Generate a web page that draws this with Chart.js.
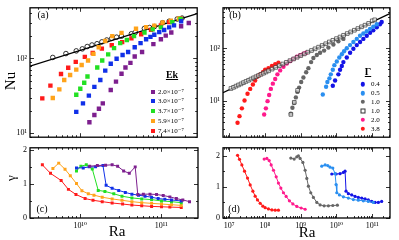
<!DOCTYPE html>
<html><head><meta charset="utf-8">
<title>Nu and gamma vs Ra</title>
<script src="https://cdn.jsdelivr.net/npm/chart.js"></script>
<style>
  body { margin: 0; background: #fff; }
  #fig { position: relative; width: 399px; height: 240px; overflow: hidden; font-family: "Liberation Serif", "DejaVu Serif", serif; color: #000; }
  canvas { position: absolute; }
  .t { position: absolute; white-space: nowrap; line-height: 1; transform: translate(-50%, -50%); }
  .row { position: absolute; white-space: nowrap; line-height: 1; font-size: 7px; transform: translateY(-50%); }
  .mk { position: absolute; transform: translate(-50%, -50%); }
</style>
</head>
<body>
<div id="fig">
  <canvas id="ca" width="202" height="145" style="left:0;top:0"></canvas>
  <canvas id="cb" width="199" height="145" style="left:200px;top:0"></canvas>
  <canvas id="cc" width="202" height="100" style="left:0;top:140px"></canvas>
  <canvas id="cd" width="199" height="100" style="left:200px;top:140px"></canvas>

  <div class="t" style="left:10px;top:81px;font-size:15px;transform:translate(-50%,-50%) rotate(-90deg)">Nu</div>
  <div class="t" style="left:10px;top:178px;font-size:13px;transform:translate(-50%,-50%) rotate(-90deg)">γ</div>
  <div class="t" style="left:117px;top:231px;font-size:15px">Ra</div>
  <div class="t" style="left:307px;top:232px;font-size:15px">Ra</div>
  <div class="t" style="left:43px;top:15px;font-size:10px">(a)</div>
  <div class="t" style="left:235px;top:15px;font-size:10px">(b)</div>
  <div class="t" style="left:42px;top:209px;font-size:10px">(c)</div>
  <div class="t" style="left:234px;top:209px;font-size:10px">(d)</div>
  <div id="legA"></div>
  <div id="legB"></div>
</div>

<script>
// ---- panel (a): Nu vs Ra, one series per Ekman number
const ekLabels = ['2.0×10⁻⁷', '3.0×10⁻⁷', '3.7×10⁻⁷', '5.9×10⁻⁷', '7.4×10⁻⁷'];

const raA_open = [4.6e9, 6.7e9, 9.0e9, 1.07e10, 1.23e10, 1.41e10, 1.63e10, 1.87e10, 2.15e10, 2.48e10, 2.85e10, 3.28e10, 4.35e10, 4.86e10, 6.3e10, 7.3e10, 8.4e10, 1.06e11, 1.28e11, 1.61e11, 1.85e11];
const nuA_open = [103, 116, 126, 134, 144, 151, 157, 166, 176, 185, 192, 198, 213, 222, 251, 258, 266, 299, 313, 335, 345];
const raA_fit = [2.4e9, 2.85e11];
const nuA_fit = [79, 396];

const raA_ek20 = [1.31e10, 1.51e10, 1.72e10, 1.92e10, 2.41e10, 2.8e10, 3.28e10, 3.67e10, 4.23e10, 4.78e10, 5.9e10, 8.15e10, 1.01e11, 1.16e11, 1.36e11, 1.8e11, 2.24e11];
const nuA_ek20 = [14.1, 17.6, 21.3, 25.1, 37.9, 49.1, 62.5, 75.7, 87.3, 106, 122, 155, 180, 201, 222, 268, 296];
const raA_ek30 = [9.0e9, 1.09e10, 1.29e10, 1.51e10, 1.79e10, 2.06e10, 2.41e10, 2.85e10, 3.38e10, 3.96e10, 4.78e10, 5.65e10, 6.62e10, 7.49e10, 8.37e10, 9.64e10, 1.11e11, 1.28e11, 1.47e11, 1.8e11];
const nuA_ek30 = [19.4, 25.1, 31.9, 41.8, 51.6, 68.8, 84.9, 99, 111, 122, 141, 160, 180, 194, 207, 224, 239, 259, 276, 313];
const raA_ek37 = [9.0e9, 1.01e10, 1.13e10, 1.24e10, 1.64e10, 1.89e10, 2.24e10, 2.65e10, 3.16e10, 3.82e10, 4.69e10, 6.32e10, 7.98e10, 1.01e11, 1.4e11, 1.77e11];
const nuA_ek37 = [32.8, 39.4, 47.3, 57.4, 75.7, 93.6, 113, 137, 160, 176, 198, 222, 244, 259, 305, 335];
const raA_ek59 = [4.6e9, 5.55e9, 6.38e9, 7.55e9, 9.0e9, 1.05e10, 1.26e10, 1.47e10, 1.71e10, 2.06e10, 2.52e10, 3.28e10, 4.96e10, 6.62e10, 8.37e10, 1.06e11, 1.34e11, 1.69e11];
const nuA_ek59 = [29.6, 38.7, 51.6, 60.1, 70.8, 81.8, 93.6, 115, 141, 171, 198, 219, 249, 261, 274, 301, 319, 338];
const raA_ek74 = [3.41e9, 4.3e9, 5.82e9, 7.15e9, 8.87e9, 1.15e10, 1.44e10, 1.87e10, 2.48e10, 3.34e10, 4.35e10, 5.75e10, 7.62e10, 1.01e11, 1.28e11, 1.77e11];
const nuA_ek74 = [29.3, 43.4, 62, 75, 90, 105, 118, 135, 150, 165, 185, 210, 240, 275, 305, 340];

// ---- panel (c): gamma vs Ra
const raC_ek20 = [1.31e10, 1.63e10, 2.06e10, 2.48e10, 2.9e10, 3.44e10, 4.04e10, 4.78e10, 5.14e10, 6.03e10, 7.28e10, 8.77e10, 1.06e11, 1.28e11, 1.54e11, 1.85e11, 2.24e11];
const gC_ek20 = [1.52, 1.54, 1.55, 1.56, 1.52, 1.38, 1.31, 1.50, 0.69, 0.70, 0.70, 0.69, 0.66, 0.62, 0.57, 0.53, 0.48];
const raC_ek30 = [9.0e9, 1.09e10, 1.29e10, 1.55e10, 1.91e10, 2.09e10, 2.48e10, 2.99e10, 3.61e10, 4.35e10, 5.25e10, 6.32e10, 7.62e10, 9.18e10, 1.11e11, 1.34e11, 1.77e11];
const gC_ek30 = [1.47, 1.47, 1.50, 1.50, 1.54, 0.96, 0.87, 0.81, 0.75, 0.70, 0.67, 0.64, 0.61, 0.57, 0.55, 0.53, 0.50];
const raC_ek37 = [9.0e9, 1.02e10, 1.19e10, 1.41e10, 1.67e10, 2.02e10, 2.6e10, 3.28e10, 4.35e10, 5.75e10, 7.62e10, 1.01e11, 1.34e11, 1.77e11];
const gC_ek37 = [1.38, 1.52, 1.56, 1.44, 0.81, 0.78, 0.71, 0.64, 0.59, 0.56, 0.54, 0.50, 0.48, 0.45];
const raC_ek59 = [4.6e9, 5.43e9, 6.5e9, 7.55e9, 9.0e9, 1.05e10, 1.26e10, 1.48e10, 1.87e10, 2.48e10, 3.28e10, 4.35e10, 5.75e10, 7.62e10, 1.01e11, 1.34e11, 1.77e11];
const gC_ek59 = [1.45, 1.61, 1.43, 1.24, 1.01, 0.80, 0.71, 0.67, 0.61, 0.56, 0.52, 0.48, 0.45, 0.43, 0.41, 0.39, 0.37];
const raC_ek74 = raA_ek74;
const gC_ek74 = [1.56, 1.31, 1.10, 0.84, 0.69, 0.57, 0.52, 0.48, 0.44, 0.41, 0.38, 0.36, 0.34, 0.33, 0.32, 0.31];

// ---- panel (b): Nu vs Ra, one series per aspect ratio
const gammaLabels = ['0.4', '0.5', '1.0', '1.0', '2.0', '3.8'];

const raB_fit = [6.7e6, 3.1e11];
const nuB_fit = [14.5, 460];
const raB_g04 = [7.89e9, 9.14e9, 1.13e10, 1.26e10, 1.41e10, 1.56e10, 1.94e10, 2.4e10, 2.97e10, 3.69e10, 4.56e10, 5.64e10, 7.02e10, 8.69e10, 1.07e11, 1.34e11, 1.65e11, 1.84e11];
const nuB_g04 = [19.6, 24.6, 32.3, 39.5, 46.4, 55.2, 67.6, 82.8, 98.8, 116, 133, 152, 174, 199, 221, 253, 289, 319];
const raB_g05 = [4.14e9, 5.12e9, 5.57e9, 6.34e9, 6.94e9, 7.89e9, 8.74e9, 1.02e10, 1.2e10, 1.41e10, 1.63e10, 1.94e10, 2.4e10, 2.97e10, 3.69e10, 4.56e10, 5.64e10, 7.02e10, 8.69e10, 1.07e11, 1.34e11];
const nuB_g05 = [13.4, 18.8, 23.1, 27.1, 32.3, 39.5, 48.3, 56.7, 67.6, 77.5, 88.5, 101, 116, 133, 152, 174, 193, 213, 236, 260, 289];
const raB_g10 = [5.29e8, 5.86e8, 6.54e8, 7.3e8, 8.09e8, 9.02e8, 1.03e9, 1.19e9, 1.42e9, 1.64e9, 1.95e9, 2.26e9, 2.82e9, 3.48e9, 4.51e9, 5.94e9, 8.2e9, 1.13e10, 1.56e10];
const nuB_g10 = [5.8, 7.5, 9.2, 11.8, 15, 18.1, 23.1, 28.2, 35.4, 42.3, 55.2, 65.9, 75.3, 82.8, 91.2, 104, 119, 137, 152];
const raB_g10o = [1.12e7, 1.32e7, 1.55e7, 1.82e7, 2.14e7, 2.51e7, 2.95e7, 3.47e7, 4.07e7, 4.79e7, 5.62e7, 6.61e7, 7.76e7, 9.12e7, 1.07e8, 1.26e8, 1.58e8, 2.0e8, 2.51e8, 3.16e8, 3.98e8, 5.01e8, 6.31e8, 7.94e8, 1e9, 1.26e9, 1.58e9, 2.0e9, 2.51e9, 3.16e9, 3.98e9, 5.01e9, 6.31e9, 7.94e9, 1e10, 1.26e10, 1.58e10, 2.0e10, 2.51e10, 3.16e10, 3.98e10, 5.01e10, 6.31e10, 7.94e10, 1e11, 1.17e11, 5.3e8, 6.6e8, 8.2e8];
const nuB_g10o = [17.4, 18.3, 19.3, 20.3, 21.3, 22.5, 23.7, 24.9, 26.3, 27.7, 29.1, 30.7, 32.3, 34.0, 35.8, 37.7, 40.6, 43.7, 47.1, 50.7, 54.6, 58.8, 63.3, 68.1, 73.4, 79, 85.1, 91.6, 98.6, 106, 114, 123, 133, 143, 154, 165, 178, 192, 206, 222, 239, 258, 277, 299, 335, 350, 5.6, 9.5, 16];
const raB_g20 = [9.5e7, 1.06e8, 1.18e8, 1.31e8, 1.46e8, 1.66e8, 1.93e8, 2.23e8, 2.66e8, 3.29e8, 4.09e8, 5.06e8, 6.25e8, 7.78e8, 9.62e8, 1.19e9, 1.42e9];
const nuB_g20 = [5.6, 7.3, 10, 13.1, 17.1, 21.5, 26.4, 32.3, 38.4, 45.1, 51.8, 57.5, 63.4, 69.5, 74.5, 79.4, 82.8];
const raB_g38 = [1.71e7, 1.94e7, 2.26e7, 2.68e7, 3.25e7, 3.86e7, 4.59e7, 5.32e7, 6.18e7, 7.35e7, 8.73e7, 1.01e8, 1.25e8, 1.56e8, 1.93e8, 2.38e8];
const nuB_g38 = [3.9, 5.2, 7.3, 10.3, 13.8, 17.1, 20.7, 24.6, 29.4, 32.3, 35.4, 39.5, 42.3, 46.4, 50.4, 53.9];

// ---- panel (d): gamma vs Ra
const raD_g38 = raB_g38;
const gD_g38 = [2.01, 1.88, 1.70, 1.50, 1.28, 1.06, 0.86, 0.70, 0.58, 0.47, 0.38, 0.33, 0.29, 0.26, 0.25, 0.25];
const raD_g20 = [9.5e7, 1.13e8, 1.31e8, 1.49e8, 1.73e8, 2.06e8, 2.38e8, 2.78e8, 3.29e8, 3.91e8, 4.83e8, 6.01e8, 7.78e8, 1.03e9, 1.33e9];
const gD_g20 = [1.89, 1.91, 1.84, 1.70, 1.53, 1.32, 1.12, 0.96, 0.81, 0.69, 0.55, 0.45, 0.37, 0.32, 0.28];
const raD_g10 = [5.28e8, 6.55e8, 7.78e8, 8.63e8, 9.61e8, 1.15e9, 1.33e9, 1.48e9, 1.64e9, 1.91e9, 2.26e9, 2.82e9, 3.48e9, 4.51e9, 5.94e9, 7.89e9, 1.06e10];
const gD_g10 = [1.92, 1.89, 1.96, 1.99, 1.91, 1.78, 1.53, 1.27, 1.02, 0.81, 0.66, 0.50, 0.42, 0.39, 0.39, 0.40, 0.41];
const raD_g05 = [3.88e9, 4.81e9, 5.71e9, 6.62e9, 7.89e9, 9.14e9, 9.75e9, 1.02e10, 1.21e10, 1.56e10, 2.15e10, 2.96e10, 4.09e10, 5.64e10, 7.78e10, 1.07e11];
const gD_g05 = [1.66, 1.70, 1.68, 1.63, 1.60, 1.42, 1.07, 0.81, 0.74, 0.68, 0.64, 0.59, 0.57, 0.55, 0.53, 0.50];
const raD_g04 = [7.4e9, 9.75e9, 1.26e10, 1.56e10, 1.74e10, 1.85e10, 2.15e10, 2.67e10, 3.31e10, 4.09e10, 5.09e10, 6.31e10, 7.78e10, 9.68e10, 1.2e11, 1.48e11, 1.84e11];
const gD_g04 = [1.41, 1.41, 1.42, 1.46, 1.50, 0.86, 0.78, 0.74, 0.69, 0.66, 0.64, 0.61, 0.58, 0.53, 0.50, 0.50, 0.53];

// axis ranges
const raLeftMin = 2.4e9, raLeftMax = 2.85e11;
const raRightMin = 6.7e6, raRightMax = 3.14e11;
const nuAMin = 8.9, nuAMax = 473;
const nuBMin = 2.07, nuBMax = 592;
const gCMax = 2.06, gDMax = 2.25;

// colours
const ekColors = ['#7d1f8e', '#1030e8', '#22e022', '#ffa31a', '#ff1a1a'];
const gammaColors = ['#1414e6', '#2a8ff0', '#666666', '#333333', '#ff1a8c', '#ff1a1a'];

const FONT = '"Liberation Serif", "DejaVu Serif", serif';
const SUP = '⁰¹²³⁴⁵⁶⁷⁸⁹';

function pow10Label(v) {
  const l = Math.log10(v), e = Math.round(l);
  if (Math.abs(l - e) > 1e-6) return '';
  return '10' + String(e).split('').map(d => SUP[+d]).join('');
}

function logTicks(min, max) {
  const out = [];
  for (let e = Math.floor(Math.log10(min)); e <= Math.ceil(Math.log10(max)); e++) {
    for (let k = 1; k < 10; k++) {
      const v = k * Math.pow(10, e);
      if (v >= min && v <= max) out.push({ v: v, major: k === 1 });
    }
  }
  return out;
}

function linTicks(max) {
  const out = [];
  for (let v = 0; v <= max + 1e-9; v += 0.5) out.push({ v: v, major: v % 1 === 0 });
  return out;
}

const pts = (xs, ys) => xs.map((x, i) => ({ x: x, y: ys[i] }));

// inward ticks on all four sides plus the box
function frame(xt, yt) {
  return {
    id: 'frame',
    afterDatasetsDraw(chart) {
      const { ctx, chartArea: a, scales } = chart;
      ctx.save();
      ctx.strokeStyle = '#000';
      ctx.lineWidth = 0.8;
      ctx.beginPath();
      xt.forEach(t => {
        const p = Math.round(scales.x.getPixelForValue(t.v)) + 0.5;
        const L = t.major ? 4 : 2;
        ctx.moveTo(p, a.bottom); ctx.lineTo(p, a.bottom - L);
        ctx.moveTo(p, a.top); ctx.lineTo(p, a.top + L);
      });
      yt.forEach(t => {
        const p = Math.round(scales.y.getPixelForValue(t.v)) + 0.5;
        const L = t.major ? 4 : 2;
        ctx.moveTo(a.left, p); ctx.lineTo(a.left + L, p);
        ctx.moveTo(a.right, p); ctx.lineTo(a.right - L, p);
      });
      ctx.stroke();
      ctx.lineWidth = 1.3;
      ctx.strokeRect(a.left, a.top, a.right - a.left, a.bottom - a.top);
      ctx.restore();
    }
  };
}

function marks(xs, ys, color, style, r, extra) {
  return Object.assign({
    data: pts(xs, ys), showLine: false, pointStyle: style, pointRadius: r,
    backgroundColor: color, borderColor: color, borderWidth: 0
  }, extra || {});
}

function joined(xs, ys, color, style, r) {
  return {
    data: pts(xs, ys), showLine: true, borderColor: color, borderWidth: 1,
    pointStyle: style, pointRadius: r, pointBackgroundColor: color, pointBorderWidth: 0
  };
}

function fitLine(xs, ys) {
  return { data: pts(xs, ys), showLine: true, borderColor: '#000', borderWidth: 1.3, pointRadius: 0 };
}

function makeChart(id, datasets, o) {
  const xt = logTicks(o.xmin, o.xmax);
  const yt = o.ylog ? logTicks(o.ymin, o.ymax) : linTicks(o.ymax);
  return new Chart(document.getElementById(id), {
    type: 'scatter',
    data: { datasets: datasets },
    options: {
      responsive: false, animation: false,
      layout: { padding: o.pad },
      plugins: { legend: { display: false }, tooltip: { enabled: false } },
      scales: {
        x: {
          type: 'logarithmic', min: o.xmin, max: o.xmax, display: o.xlabels,
          grid: { display: false, drawTicks: false }, border: { display: false },
          afterBuildTicks: s => { s.ticks = xt.filter(t => t.major).map(t => ({ value: t.v })); },
          afterFit: s => { s.height = o.xh; },
          ticks: { autoSkip: false, maxRotation: 0, padding: 3, color: '#000', font: { family: FONT, size: 8 }, callback: v => pow10Label(v) }
        },
        y: {
          type: o.ylog ? 'logarithmic' : 'linear', min: o.ylog ? o.ymin : 0, max: o.ymax,
          grid: { display: false, drawTicks: false }, border: { display: false },
          afterBuildTicks: s => { s.ticks = yt.filter(t => t.major).map(t => ({ value: t.v })); },
          afterFit: s => { s.width = o.yw; },
          ticks: { autoSkip: false, padding: 3, color: '#000', font: { family: FONT, size: 8 },
                   callback: v => o.ylog ? pow10Label(v) : String(v) }
        }
      }
    },
    plugins: [frame(xt, yt)]
  });
}

// (a)
makeChart('ca', [
  marks(raA_ek20, nuA_ek20, ekColors[0], 'rect', 3.1),
  marks(raA_ek30, nuA_ek30, ekColors[1], 'rect', 3.1),
  marks(raA_ek37, nuA_ek37, ekColors[2], 'rect', 3.1),
  marks(raA_ek59, nuA_ek59, ekColors[3], 'rect', 3.1),
  marks(raA_ek74, nuA_ek74, ekColors[4], 'rect', 3.1),
  fitLine(raA_fit, nuA_fit),
  marks(raA_open, nuA_open, '#000', 'circle', 2.3, { backgroundColor: '#fff', borderWidth: 0.8 })
], { xmin: raLeftMin, xmax: raLeftMax, ymin: nuAMin, ymax: nuAMax, ylog: true,
     pad: { top: 3, right: 2, bottom: 3, left: 0 }, yw: 30, xh: 0, xlabels: false });

// (b)
makeChart('cb', [
  marks(raB_g10o, nuB_g10o, gammaColors[3], 'rect', 2.6, { backgroundColor: 'rgba(255,255,255,0.6)', borderWidth: 0.7 }),
  fitLine(raB_fit, nuB_fit),
  marks(raB_g10, nuB_g10, gammaColors[2], 'circle', 2.2),
  marks(raB_g20, nuB_g20, gammaColors[4], 'circle', 2.2),
  marks(raB_g38, nuB_g38, gammaColors[5], 'circle', 2.2),
  marks(raB_g05, nuB_g05, gammaColors[1], 'circle', 2.2),
  marks(raB_g04, nuB_g04, gammaColors[0], 'circle', 2.2)
], { xmin: raRightMin, xmax: raRightMax, ymin: nuBMin, ymax: nuBMax, ylog: true,
     pad: { top: 3, right: 9, bottom: 2, left: 0 }, yw: 23, xh: 0, xlabels: false });

// (c)
makeChart('cc', [
  joined(raC_ek20, gC_ek20, ekColors[0], 'rect', 2.1),
  joined(raC_ek30, gC_ek30, ekColors[1], 'rect', 2.1),
  joined(raC_ek37, gC_ek37, ekColors[2], 'rect', 2.1),
  joined(raC_ek59, gC_ek59, ekColors[3], 'rect', 2.1),
  joined(raC_ek74, gC_ek74, ekColors[4], 'rect', 2.1)
], { xmin: raLeftMin, xmax: raLeftMax, ymax: gCMax, ylog: false,
     pad: { top: 4, right: 2, bottom: 0, left: 0 }, yw: 30, xh: 22, xlabels: true });

// (d)
makeChart('cd', [
  joined(raD_g38, gD_g38, gammaColors[5], 'circle', 1.6),
  joined(raD_g20, gD_g20, gammaColors[4], 'circle', 1.6),
  joined(raD_g10, gD_g10, gammaColors[2], 'circle', 1.6),
  joined(raD_g05, gD_g05, gammaColors[1], 'circle', 1.6),
  joined(raD_g04, gD_g04, gammaColors[0], 'circle', 1.6)
], { xmin: raRightMin, xmax: raRightMax, ymax: gDMax, ylog: false,
     pad: { top: 5, right: 9, bottom: 0, left: 0 }, yw: 23, xh: 22, xlabels: true });

// legends (HTML overlays)
function legend(el, title, hx, hy, labels, colors, mx, tx, y0, dy, markerFor) {
  let html = '<div class="t" style="left:' + hx + 'px;top:' + hy + 'px;font-size:10px;font-weight:bold;text-decoration:underline">' + title + '</div>';
  labels.forEach((lab, i) => {
    const y = y0 + i * dy;
    html += '<div class="mk" style="left:' + mx + 'px;top:' + y + 'px;' + markerFor(i, colors[i]) + '"></div>';
    html += '<div class="row" style="left:' + tx + 'px;top:' + y + 'px">' + lab + '</div>';
  });
  document.getElementById(el).innerHTML = html;
}

legend('legA', 'Ek', 172, 75, ekLabels, ekColors, 152.5, 158, 91.7, 9.7,
  (i, c) => 'width:4px;height:4px;background:' + c);
legend('legB', 'Γ', 368, 72, gammaLabels, gammaColors, 362.5, 371, 84.3, 8.9,
  (i, c) => i === 3 ? 'width:3px;height:3px;border:0.7px solid ' + c + ';background:#fff'
                    : 'width:4.4px;height:4.4px;border-radius:50%;background:' + c);
</script>
</body></html>
